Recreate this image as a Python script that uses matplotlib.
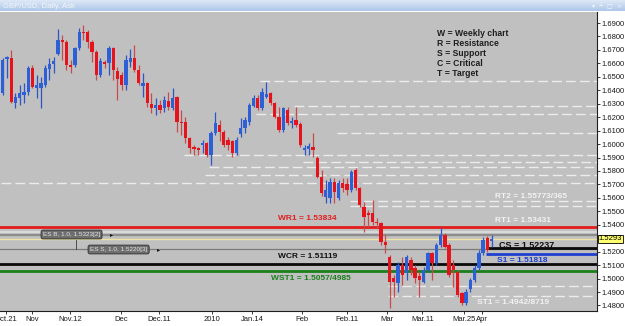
import numpy as np
import matplotlib
matplotlib.use("Agg")
import matplotlib.pyplot as plt
from matplotlib.colors import LinearSegmentedColormap
from matplotlib.lines import Line2D

plt.rcParams["font.family"] = ["Liberation Sans", "DejaVu Sans"]

W, H = 625, 326

# GBP/USD daily candles, late Oct 2009 -> early Apr 2010
opens = [
    1.6380, 1.6632, 1.6640, 1.6305, 1.6342, 1.6365, 1.6387, 1.6565, 1.6417, 1.6417,
    1.6439, 1.6558, 1.6595, 1.6670, 1.6774, 1.6759, 1.6588, 1.6588, 1.6714, 1.6833,
    1.6833, 1.6759, 1.6684, 1.6513, 1.6610, 1.6603, 1.6714, 1.6543, 1.6513, 1.6439,
    1.6610, 1.6640, 1.6551, 1.6432, 1.6454, 1.6298, 1.6268, 1.6290, 1.6268, 1.6320,
    1.6268, 1.6350, 1.6164, 1.6164, 1.6045, 1.5978, 1.5971, 1.5993, 1.6008, 1.5919,
    1.6082, 1.6142, 1.6090, 1.6030, 1.6023, 1.5933, 1.6075, 1.6119, 1.6164, 1.6283,
    1.6342, 1.6268, 1.6350, 1.6380, 1.6305, 1.6201, 1.6104, 1.6253, 1.6157, 1.6179,
    1.6149, 1.5956, 1.5963, 1.5978, 1.5896, 1.5755, 1.5606, 1.5599, 1.5718, 1.5599,
    1.5710, 1.5703, 1.5658, 1.5807, 1.5673, 1.5532, 1.5487, 1.5487, 1.5420, 1.5413,
    1.5271, 1.5160, 1.5004, 1.4967, 1.5101, 1.5042, 1.5138, 1.5079, 1.5019, 1.4975,
    1.5064, 1.5190, 1.5116, 1.5249, 1.5323, 1.5249, 1.5101, 1.5049, 1.4893, 1.4818,
    1.4922, 1.4990, 1.5079, 1.5190, 1.5301, 1.5280,
]
highs = [
    1.6640, 1.6655, 1.6699, 1.6380, 1.6439, 1.6454, 1.6580, 1.6588, 1.6513, 1.6499,
    1.6588, 1.6640, 1.6647, 1.6855, 1.6811, 1.6774, 1.6625, 1.6722, 1.6863, 1.6885,
    1.6848, 1.6774, 1.6699, 1.6640, 1.6625, 1.6729, 1.6722, 1.6573, 1.6536, 1.6662,
    1.6707, 1.6736, 1.6588, 1.6528, 1.6461, 1.6380, 1.6342, 1.6328, 1.6357, 1.6387,
    1.6417, 1.6357, 1.6253, 1.6201, 1.6052, 1.5993, 1.5978, 1.6030, 1.6015, 1.6097,
    1.6238, 1.6179, 1.6104, 1.6052, 1.6030, 1.6052, 1.6194, 1.6201, 1.6305, 1.6365,
    1.6365, 1.6417, 1.6461, 1.6387, 1.6313, 1.6275, 1.6275, 1.6275, 1.6201, 1.6275,
    1.6164, 1.5993, 1.6008, 1.6082, 1.5911, 1.5807, 1.5733, 1.5748, 1.5748, 1.5733,
    1.5748, 1.5748, 1.5807, 1.5822, 1.5681, 1.5569, 1.5510, 1.5584, 1.5450, 1.5420,
    1.5323, 1.5175, 1.5027, 1.5123, 1.5160, 1.5175, 1.5160, 1.5101, 1.5049, 1.5086,
    1.5197, 1.5197, 1.5264, 1.5376, 1.5338, 1.5264, 1.5138, 1.5064, 1.4900, 1.4922,
    1.5004, 1.5101, 1.5212, 1.5309, 1.5316, 1.5323,
]
lows = [
    1.6365, 1.6491, 1.6305, 1.6268, 1.6290, 1.6305, 1.6365, 1.6417, 1.6342, 1.6268,
    1.6424, 1.6476, 1.6528, 1.6662, 1.6625, 1.6551, 1.6528, 1.6573, 1.6699, 1.6774,
    1.6714, 1.6610, 1.6476, 1.6499, 1.6565, 1.6513, 1.6476, 1.6328, 1.6402, 1.6402,
    1.6573, 1.6536, 1.6439, 1.6350, 1.6275, 1.6231, 1.6216, 1.6231, 1.6238, 1.6253,
    1.6253, 1.6090, 1.6067, 1.6008, 1.5933, 1.5919, 1.5919, 1.5933, 1.5904, 1.5844,
    1.6067, 1.6023, 1.5978, 1.5956, 1.5904, 1.5919, 1.6052, 1.6082, 1.6142, 1.6275,
    1.6253, 1.6253, 1.6342, 1.6290, 1.6194, 1.6090, 1.6090, 1.6142, 1.6119, 1.6127,
    1.5978, 1.5919, 1.5919, 1.5904, 1.5748, 1.5614, 1.5562, 1.5562, 1.5562, 1.5584,
    1.5643, 1.5621, 1.5643, 1.5658, 1.5532, 1.5346, 1.5383, 1.5398, 1.5376, 1.5249,
    1.5190, 1.4785, 1.4863, 1.4900, 1.4952, 1.4990, 1.5027, 1.4967, 1.4863, 1.4967,
    1.5049, 1.4990, 1.5101, 1.5234, 1.5227, 1.5012, 1.4937, 1.4863, 1.4803, 1.4803,
    1.4900, 1.4975, 1.5064, 1.5175, 1.5197, 1.5234,
]
closes = [
    1.6625, 1.6647, 1.6313, 1.6350, 1.6380, 1.6387, 1.6565, 1.6424, 1.6439, 1.6454,
    1.6565, 1.6595, 1.6617, 1.6774, 1.6759, 1.6588, 1.6573, 1.6714, 1.6833, 1.6826,
    1.6759, 1.6684, 1.6513, 1.6617, 1.6595, 1.6714, 1.6551, 1.6484, 1.6439, 1.6625,
    1.6640, 1.6551, 1.6454, 1.6454, 1.6305, 1.6268, 1.6290, 1.6253, 1.6328, 1.6275,
    1.6342, 1.6164, 1.6157, 1.6045, 1.5971, 1.5963, 1.5956, 1.6008, 1.5919, 1.6082,
    1.6157, 1.6090, 1.5993, 1.5993, 1.5933, 1.6030, 1.6119, 1.6179, 1.6290, 1.6342,
    1.6268, 1.6387, 1.6372, 1.6305, 1.6201, 1.6104, 1.6268, 1.6157, 1.6171, 1.6142,
    1.5993, 1.5971, 1.5986, 1.5956, 1.5755, 1.5636, 1.5658, 1.5718, 1.5643, 1.5710,
    1.5673, 1.5658, 1.5792, 1.5673, 1.5547, 1.5458, 1.5472, 1.5420, 1.5413, 1.5271,
    1.5249, 1.4975, 1.4975, 1.5101, 1.5027, 1.5160, 1.5064, 1.5004, 1.4990, 1.5064,
    1.5190, 1.5116, 1.5249, 1.5323, 1.5234, 1.5027, 1.5064, 1.4878, 1.4818, 1.4900,
    1.4990, 1.5079, 1.5190, 1.5286, 1.5212, 1.5293,
]

date_labels = ["Oct.21", "Nov", "Nov.12", "Dec", "Dec.11", "2010", "Jan.14",
               "Feb", "Feb.11", "Mar", "Mar.11", "Mar.25", "Apr"]
date_idx = [0.8, 6.9, 15.8, 27.8, 36.8, 49.3, 58.7, 70.4, 81.0, 90.4, 98.7, 108.5, 112.8]

# old swing levels drawn as white dashed lines: (price, first candle)
swing_levels = [1.6469, 1.6283, 1.6224, 1.6082, 1.5919, 1.5867, 1.5829, 1.5770,
                1.5710, 1.55773, 1.55365, 1.4942, 1.48719]
swing_start = [61, 69, 60, 79, 43, 71, 49, 48, 0, 82, 82, 91, 91]

WR1, RT1, ES_B, ASK, ES_S = 1.53834, 1.53431, 1.5323, 1.5293, 1.5220
CS, S1, WCR, WST1 = 1.52237, 1.51818, 1.51119, 1.5057

BLUE, RED = "#2d5fd6", "#e5141c"

fig = plt.figure(figsize=(W / 100, H / 100), dpi=100, facecolor="white")
ax = fig.add_axes([0, 15 / H, 597 / W, 299 / H])
ax.set_facecolor("#c0c0c0")
ax.set_xlim(-0.635, 139.8)
ax.set_ylim(1.4759, 1.6982)

# levels
for p, s in zip(swing_levels, swing_start):
    ax.hlines(p, s - 0.4, 140, colors="#ececec", lw=1.0, linestyles=(0, (7, 3)), zorder=2)
ax.axhline(RT1, color="#d9d9d9", lw=1.6, zorder=2)
ax.axhline(WR1, color="#e31b1b", lw=2.0, zorder=2)
ax.axhline(ES_B, color="#8c8c8c", lw=1.6, zorder=2)
ax.axhline(ASK, color="#efe2a4", lw=1.0, zorder=2)
ax.axhline(ES_S, color="#7a7a7a", lw=0.9, zorder=2)
ax.axhline(WCR, color="#0a0a0a", lw=2.0, zorder=2)
ax.axhline(WST1, color="#1b7f1b", lw=2.0, zorder=2)
ax.hlines(CS, 113.6, 140, colors="#0a0a0a", lw=2.0, zorder=2)
ax.hlines(S1, 113.8, 140, colors="#2040d0", lw=2.0, zorder=2)

# candles
o, hi, lo, c = (np.array(a) for a in (opens, highs, lows, closes))
idx = np.arange(len(o))
up = c >= o
ax.vlines(idx, lo, hi, colors=np.where(up, "#2b55c8", "#c84a4a"), lw=0.9, zorder=3)
ax.bar(idx, np.maximum(np.abs(c - o), 0.00015), bottom=np.minimum(o, c), width=0.8,
       color=np.where(up, BLUE, RED), linewidth=0, zorder=4)

# axes (the 1.5300 label sits under the price tag, so it is left out)
ax.yaxis.tick_right()
yt = np.round(np.arange(1.48, 1.6901, 0.01), 2)
ax.set_yticks(yt)
ax.set_yticklabels(["" if abs(t - 1.53) < 1e-9 else f"{t:.4f}" for t in yt])
ax.tick_params(axis="y", length=2, width=0.6, pad=1.5, labelsize=5.5, colors="#1a1a1a")
ax.set_xticks(date_idx)
ax.set_xticklabels(date_labels)
ax.tick_params(axis="x", length=2, width=0.6, pad=1.5, labelsize=5.5, colors="#1a1a1a")
for side in ("left", "top"):
    ax.spines[side].set_visible(False)
for side in ("right", "bottom"):
    ax.spines[side].set_color("#202020")
    ax.spines[side].set_linewidth(0.8)


def ftxt(x, y, s, **kw):
    kw.setdefault("va", "center")
    return fig.text(x / W, 1 - y / H, s, **kw)


# legend
for k, s in enumerate(["W = Weekly chart", "R = Resistance", "S = Support",
                       "C = Critical", "T = Target"]):
    ftxt(437, 34 + k * 9.8, s, fontsize=6.2, weight="bold", color="#1e1e1e")

ftxt(278, 218, f"WR1 = {WR1:.5f}", fontsize=6, weight="bold", color="#e02020")
ftxt(278, 256, f"WCR = {WCR:.5f}", fontsize=6, weight="bold", color="#101010")
ftxt(271, 279, "WST1 = 1.5057/4985", fontsize=6, weight="bold", color="#1b7f1b")
ftxt(495, 196, "RT2 = 1.55773/365", fontsize=6, weight="bold", color="#f2f2f2")
ftxt(495, 221, f"RT1 = {RT1:.5f}", fontsize=6, weight="bold", color="#f2f2f2")
ftxt(499, 245, f"CS = {CS:.5f}", fontsize=6.5, weight="bold", color="#101010")
ftxt(497, 260, f"S1 = {S1:.5f}", fontsize=6, weight="bold", color="#2040d0")
ftxt(477, 302, "ST1 = 1.4942/8719", fontsize=6, weight="bold", color="#f2f2f2")

# pending order tags
box = dict(boxstyle="round,pad=0.3", fc="#6e6e6e", ec="#2e2e2e", lw=0.6)
ftxt(43, 234.5, "ES B, 1.0, 1.5323[2]", fontsize=4.6, color="#e6e6e6", bbox=box)
ftxt(90, 249.5, "ES S, 1.0, 1.5220[3]", fontsize=4.6, color="#e6e6e6", bbox=box)
ftxt(110, 234.5, "\u25b8", fontsize=4.5, color="#111111", family="DejaVu Sans")
ftxt(157, 249.5, "\u25b8", fontsize=4.5, color="#111111", family="DejaVu Sans")
fig.add_artist(Line2D([76 / W, 76 / W], [1 - 240 / H, 1 - 249 / H], color="#3a3a3a", lw=0.6))

# current price tag
ftxt(598.5, 239, "1.5293", fontsize=5.5, color="#000000",
     bbox=dict(boxstyle="square,pad=0.12", fc="#ffff70", ec="#000000", lw=0.6))

# window title bar
tax = fig.add_axes([0, 1 - 11 / H, 1, 11 / H])
grad = np.linspace(0, 1, 20).reshape(-1, 1)
tax.imshow(grad, aspect="auto", extent=[0, 1, 0, 1],
           cmap=LinearSegmentedColormap.from_list("bar", ["#dde8f6", "#aec7ea"]))
tax.axis("off")
tax.text(0.005, 0.45, "GBP/USD, Daily, Ask", fontsize=5.5, color="#f4f6fa", va="center",
         transform=tax.transAxes)
tax.text(0.995, 0.45, "\u25be  \u2534  \u25a1  \u00d7", fontsize=4.5, color="#f4f6fa",
         va="center", ha="right", transform=tax.transAxes, family="DejaVu Sans")

fig.savefig("out.png", dpi=100)
